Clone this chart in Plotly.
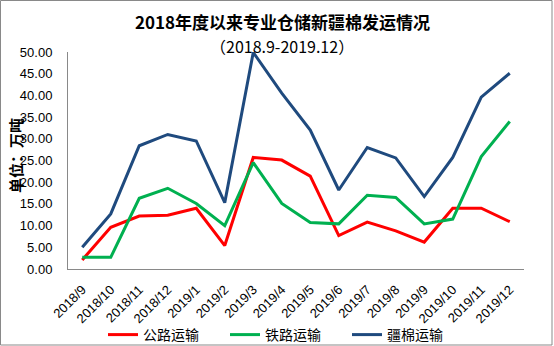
import plotly.graph_objects as go

months = ["2018/9", "2018/10", "2018/11", "2018/12", "2019/1", "2019/2", "2019/3", "2019/4",
          "2019/5", "2019/6", "2019/7", "2019/8", "2019/9", "2019/10", "2019/11", "2019/12"]
road = [2.1, 9.6, 12.2, 12.4, 14.0, 5.4, 25.7, 25.1, 21.4, 7.7, 10.8, 8.8, 6.2, 14.0, 14.0, 10.9]
rail = [2.7, 2.7, 16.3, 18.6, 15.1, 10.0, 24.5, 15.1, 10.7, 10.4, 17.0, 16.5, 10.4, 11.5, 25.9, 34.0]
total = [5.0, 12.7, 28.4, 31.0, 29.5, 15.3, 49.9, 40.5, 32.0, 18.2, 28.0, 25.6, 16.7, 25.7, 39.6, 45.1]
yticks = [0, 5, 10, 15, 20, 25, 30, 35, 40, 45, 50]

FONT = "Liberation Sans, Noto Sans CJK SC, sans-serif"
CJK = "Noto Sans CJK SC, sans-serif"

W, H = 554, 346
L, R, T, B = 68, 30, 52, 77
pw, ph = W - L - R, H - T - B

def px(x):
    return (x - L) / pw

def py(y):
    return (H - B - y) / ph

fig = go.Figure()
for name, vals, color in [("公路运输", road, "#FF0000"),
                          ("铁路运输", rail, "#00B050"),
                          ("疆棉运输", total, "#1F4A7E")]:
    fig.add_trace(go.Scatter(x=months, y=vals, mode="lines", name=name,
                             line=dict(color=color, width=3)))

fig.update_layout(
    width=W, height=H,
    margin=dict(l=L, r=R, t=T, b=B, autoexpand=False),
    paper_bgcolor="white", plot_bgcolor="white",
    font=dict(family=FONT, size=13, color="black"),
    showlegend=True,
    legend=dict(orientation="h", x=px(103), xanchor="left", y=py(335), yanchor="middle",
                font=dict(family=CJK, size=14), entrywidth=77, entrywidthmode="pixels",
                itemwidth=30, bgcolor="rgba(0,0,0,0)"),
    xaxis=dict(type="category", range=[-0.5, 15.5], tickangle=-45, showgrid=False,
               showline=True, linecolor="#898989", linewidth=1, ticks="", automargin=False,
               ticklabelstandoff=7,
               tickfont=dict(family=FONT, size=13), fixedrange=True),
    yaxis=dict(range=[0, 50], tickvals=yticks, tickformat=".2f", showgrid=False,
               showline=True, linecolor="#898989", linewidth=1, ticks="", automargin=False,
               ticklabelstandoff=12,
               zeroline=False, tickfont=dict(family=FONT, size=13), fixedrange=True),
    annotations=[
        dict(text="<b>2018年度以来专业仓储新疆棉发运情况</b>", xref="paper", yref="paper",
             x=px(282), y=py(21), xanchor="center", yanchor="middle", showarrow=False,
             font=dict(family=CJK, size=17)),
        dict(text="（2018.9-2019.12）", xref="paper", yref="paper",
             x=px(282), y=py(46), xanchor="center", yanchor="middle", showarrow=False,
             font=dict(family=CJK, size=16)),
        dict(text="<b>单位：万吨</b>", xref="paper", yref="paper", textangle=-90,
             x=px(15), y=py(156), xanchor="center", yanchor="middle", showarrow=False,
             font=dict(family=CJK, size=15)),
    ],
    shapes=[dict(type="rect", xref="paper", yref="paper",
                 x0=px(0.5), x1=px(552), y0=py(0.5), y1=py(345),
                 line=dict(color="#898989", width=1), fillcolor="rgba(0,0,0,0)", layer="below")],
)

fig.write_html("out.html")
